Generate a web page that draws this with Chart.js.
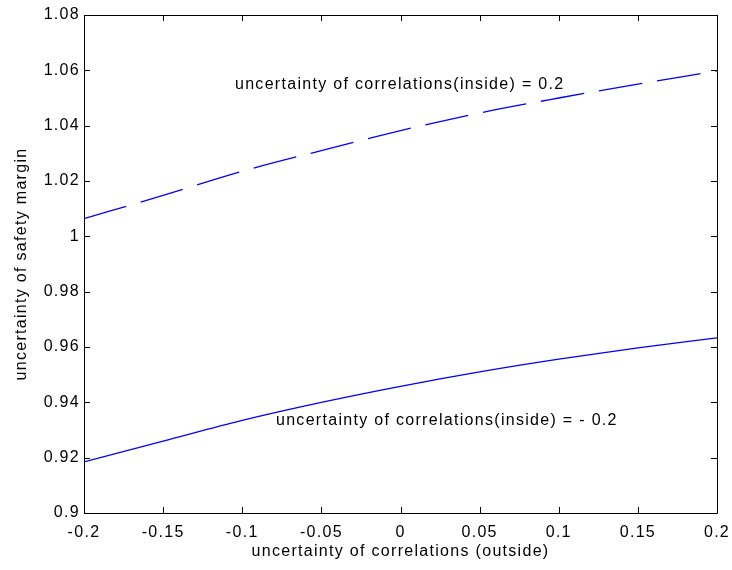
<!DOCTYPE html>
<html>
  <head>
    <script src="https://cdn.jsdelivr.net/npm/chart.js@4/dist/chart.umd.min.js"></script>
    <style>
      body { margin: 0; background: #fff; }
      #wrap { width: 732px; height: 570px; }
    </style>
  </head>

  <body>
    <div id="wrap">
      <canvas id="canvas"></canvas>
    </div>
    <script>
      const xValues = [-0.2, -0.15, -0.1, -0.05, 0, 0.05, 0.1, 0.15, 0.2];
      // inside = 0.2 (dashed)
      const insidePos = [1.0064, 1.0148, 1.0235, 1.031, 1.0382, 1.0446, 1.05, 1.055, 1.0598];
      // inside = -0.2 (solid)
      const insideNeg = [0.9185, 0.926, 0.9335, 0.94, 0.9458, 0.951, 0.9556, 0.9597, 0.9633];
      const xTickLabels = ['-0.2', '-0.15', '-0.1', '-0.05', '0', '0.05', '0.1', '0.15', '0.2'];
      const yTickLabels = ['0.9', '0.92', '0.94', '0.96', '0.98', '1', '1.02', '1.04', '1.06', '1.08'];

      const FONT = '"Liberation Sans", Arial, sans-serif';
      const SPACING = '1.3px';
      Chart.defaults.font.family = FONT;
      Chart.defaults.font.size = 16;
      Chart.defaults.color = '#000';

      // box, inward ticks, axis titles and text labels, MATLAB style
      const matlabAxes = {
        id: 'matlabAxes',
        beforeDraw(chart) {
          chart.ctx.letterSpacing = SPACING;
        },
        afterDraw(chart) {
          const { ctx, chartArea: a, scales } = chart;
          const x = scales.x, y = scales.y;
          ctx.save();
          ctx.strokeStyle = '#000';
          ctx.lineWidth = 1;
          ctx.beginPath();
          ctx.rect(a.left + 0.5, a.top + 0.5, a.right - a.left, a.bottom - a.top);
          const t = 6;
          xTickLabels.forEach((l) => {
            const px = Math.round(x.getPixelForValue(parseFloat(l))) + 0.5;
            ctx.moveTo(px, a.bottom); ctx.lineTo(px, a.bottom - t);
            ctx.moveTo(px, a.top); ctx.lineTo(px, a.top + t);
          });
          yTickLabels.forEach((l) => {
            const py = Math.round(y.getPixelForValue(parseFloat(l))) + 0.5;
            ctx.moveTo(a.left, py); ctx.lineTo(a.left + t, py);
            ctx.moveTo(a.right, py); ctx.lineTo(a.right - t, py);
          });
          ctx.stroke();

          ctx.fillStyle = '#000';
          ctx.font = '16px ' + FONT;
          ctx.letterSpacing = SPACING;
          ctx.textAlign = 'center';
          ctx.textBaseline = 'middle';
          ctx.fillText('uncertainty of correlations (outside)', (a.left + a.right) / 2, 552);
          ctx.save();
          ctx.translate(22, (a.top + a.bottom) / 2);
          ctx.rotate(-Math.PI / 2);
          ctx.fillText('uncertainty of safety margin', 0, 0);
          ctx.restore();

          ctx.textAlign = 'left';
          ctx.fillText('uncertainty of correlations(inside) = 0.2',
            x.getPixelForValue(-0.1046), y.getPixelForValue(1.0547));
          ctx.fillText('uncertainty of correlations(inside) = - 0.2',
            x.getPixelForValue(-0.0787), y.getPixelForValue(0.9333));
          ctx.restore();
        },
      };

      new Chart(document.getElementById('canvas').getContext('2d'), {
        type: 'line',
        data: {
          labels: xValues,
          datasets: [
            {
              data: xValues.map((v, i) => ({ x: v, y: insidePos[i] })),
              borderColor: 'rgb(0,0,255)',
              borderWidth: 1.3,
              borderDash: [44, 15],
              pointRadius: 0,
              cubicInterpolationMode: 'monotone',
            },
            {
              data: xValues.map((v, i) => ({ x: v, y: insideNeg[i] })),
              borderColor: 'rgb(0,0,255)',
              borderWidth: 1.3,
              pointRadius: 0,
              cubicInterpolationMode: 'monotone',
            },
          ],
        },
        options: {
          responsive: true,
          maintainAspectRatio: false,
          animation: false,
          layout: { padding: { left: 0, top: 15, right: 15, bottom: 0 } },
          plugins: { legend: { display: false }, tooltip: { enabled: false } },
          scales: {
            x: {
              type: 'linear',
              min: -0.2,
              max: 0.2,
              grid: { display: false, drawTicks: false },
              border: { display: false },
              afterBuildTicks: (s) => { s.ticks = xTickLabels.map((l) => ({ value: parseFloat(l) })); },
              afterFit: (s) => { s.height = 57; s.paddingLeft = 0; s.paddingRight = 0; },
              ticks: {
                padding: 10,
                maxRotation: 0,
                autoSkip: false,
                callback: (v, i) => xTickLabels[i],
              },
            },
            y: {
              min: 0.9,
              max: 1.08,
              grid: { display: false, drawTicks: false },
              border: { display: false },
              afterBuildTicks: (s) => { s.ticks = yTickLabels.map((l) => ({ value: parseFloat(l) })); },
              afterFit: (s) => { s.width = 84; s.paddingTop = 0; s.paddingBottom = 0; },
              ticks: {
                padding: 4,
                autoSkip: false,
                callback: (v, i) => yTickLabels[i],
              },
            },
          },
        },
        plugins: [matlabAxes],
      });
    </script>
  </body>
</html>
